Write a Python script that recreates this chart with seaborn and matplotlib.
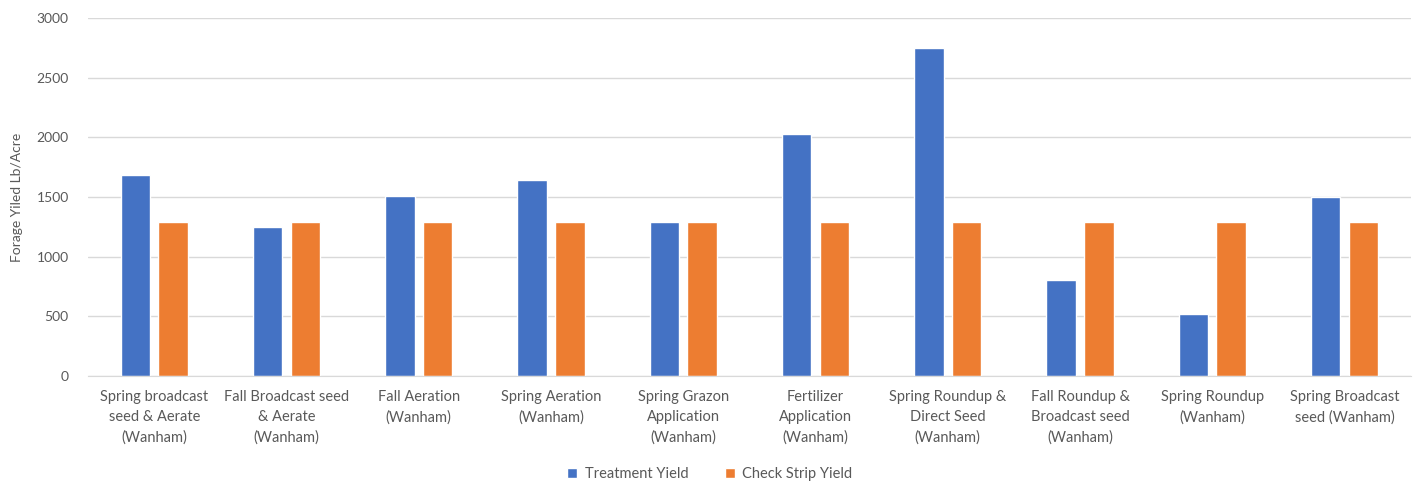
import numpy as np
import pandas as pd
import matplotlib
matplotlib.use("Agg")
import matplotlib.pyplot as plt
import seaborn as sns

sns.set_style("white")
plt.rcParams['font.family'] = ['Lato', 'DejaVu Sans']

treatments = [
    "Spring broadcast\nseed & Aerate\n(Wanham)",
    "Fall Broadcast seed\n& Aerate\n(Wanham)",
    "Fall Aeration\n(Wanham)",
    "Spring Aeration\n(Wanham)",
    "Spring Grazon\nApplication\n(Wanham)",
    "Fertilizer\nApplication\n(Wanham)",
    "Spring Roundup &\nDirect Seed\n(Wanham)",
    "Fall Roundup &\nBroadcast seed\n(Wanham)",
    "Spring Roundup\n(Wanham)",
    "Spring Broadcast\nseed (Wanham)",
]
treatment_yield = [1680, 1250, 1510, 1640, 1290, 2030, 2750, 805, 520, 1500]
check_yield = [1290, 1290, 1290, 1290, 1290, 1290, 1290, 1290, 1290, 1290]
series = ["Treatment Yield", "Check Strip Yield"]

df = pd.DataFrame({
    "Treatment": treatments * 2,
    "Series": [series[0]] * len(treatments) + [series[1]] * len(treatments),
    "Yield": treatment_yield + check_yield,
})

text_color = "#595959"
fig = plt.figure(figsize=(14.22, 4.84), dpi=100)
ax = fig.add_axes([0.062, 0.223, 0.930, 0.740])

sns.barplot(data=df, x="Treatment", y="Yield", hue="Series",
            palette=["#4472C4", "#ED7D31"], width=0.57, gap=0.22,
            saturation=1, errorbar=None, ax=ax)

ax.set_ylim(0, 3000)
ax.set_yticks(range(0, 3001, 500))
ax.yaxis.grid(True, color="#D9D9D9", linewidth=1)
ax.set_axisbelow(True)
for s in ["top", "right", "left"]:
    ax.spines[s].set_visible(False)
ax.spines["bottom"].set_color("#D9D9D9")
ax.set_xlim(-0.5, len(treatments) - 0.5)

ax.set_xlabel("")
ax.set_ylabel("Forage Yiled Lb/Acre", fontsize=10, color=text_color, labelpad=10)
ax.tick_params(axis="x", length=0, labelsize=10.5, labelcolor=text_color, pad=10)
ax.tick_params(axis="y", length=0, labelsize=10, labelcolor=text_color, pad=14)
for lab in ax.get_xticklabels():
    lab.set_linespacing(1.55)

ax.legend(loc="lower center", bbox_to_anchor=(0.47, -0.33), ncol=2, frameon=False,
          fontsize=10.5, labelcolor=text_color, handlelength=0.7, handleheight=0.7,
          columnspacing=2.5, handletextpad=0.5)

fig.savefig("out.png", dpi=100)
